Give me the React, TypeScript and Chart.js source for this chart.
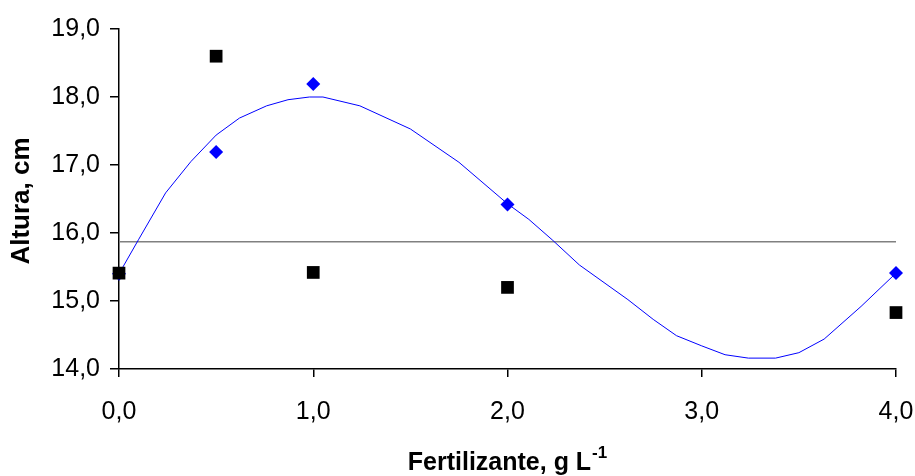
import React, { useEffect, useRef } from "react";
import { Chart, registerables } from "chart.js";

Chart.register(...registerables);

const blueX = [0, 0.5, 1, 2, 4];
const blueY = [15.4, 17.19, 18.19, 16.42, 15.41];
const blackX = [0, 0.5, 1, 2, 4];
const blackY = [15.41, 18.6, 15.42, 15.2, 14.83];
const curveX = [0, 0.1, 0.24, 0.37, 0.5, 0.62, 0.76, 0.87, 0.98, 1.05, 1.24, 1.5, 1.75, 2.0, 2.11, 2.23, 2.37, 2.62, 2.75, 2.87, 3.0, 3.12, 3.24, 3.38, 3.5, 3.63, 3.82, 4.0];
const curveY = [15.4, 15.9, 16.59, 17.05, 17.44, 17.69, 17.87, 17.96, 18.0, 18.0, 17.87, 17.53, 17.04, 16.43, 16.2, 15.9, 15.53, 15.02, 14.73, 14.49, 14.34, 14.21, 14.16, 14.16, 14.24, 14.44, 14.92, 15.41];
const meanX = [0, 4];
const meanY = [15.87, 15.87];
const xTitle = "Fertilizante, g L";
const xTitleSup = "-1";
const yTitle = "Altura, cm";

const FONT = '"Liberation Sans", Arial, sans-serif';

const zip = (xs: number[], ys: number[]) => xs.map((x, i) => ({ x, y: ys[i] }));

const titlesPlugin = {
  id: "titles",
  afterDraw(chart: any) {
    const ctx = chart.ctx;
    const a = chart.chartArea;
    ctx.save();
    ctx.fillStyle = "#000";
    ctx.font = `bold 26px ${FONT}`;
    ctx.textAlign = "center";
    ctx.textBaseline = "middle";
    ctx.save();
    ctx.translate(22, (a.top + a.bottom) / 2 + 2);
    ctx.rotate(-Math.PI / 2);
    ctx.fillText(yTitle, 0, 0);
    ctx.restore();
    ctx.textBaseline = "alphabetic";
    ctx.textAlign = "left";
    ctx.font = `bold 25px ${FONT}`;
    const w1 = ctx.measureText(xTitle).width;
    ctx.font = `bold 17px ${FONT}`;
    const w2 = ctx.measureText(xTitleSup).width;
    const cx = (a.left + a.right) / 2;
    const x0 = cx - (w1 + w2 + 1) / 2;
    ctx.font = `bold 25px ${FONT}`;
    ctx.fillText(xTitle, x0, 470);
    ctx.font = `bold 17px ${FONT}`;
    ctx.fillText(xTitleSup, x0 + w1 + 1, 458);
    ctx.restore();
  },
};

export default function App() {
  const ref = useRef<HTMLCanvasElement>(null);
  useEffect(() => {
    document.body.style.margin = "0";
    const fmt = (v: any) => Number(v).toFixed(1).replace(".", ",");
    const chart = new Chart(ref.current!, {
      type: "scatter",
      data: {
        datasets: [
          {
            data: zip(blueX, blueY),
            pointStyle: "rectRot",
            pointRadius: 7,
            backgroundColor: "#0000FF",
            borderColor: "#0000FF",
            borderWidth: 0,
            clip: false,
            order: 1,
          },
          {
            data: zip(blackX, blackY),
            pointStyle: "rect",
            pointRadius: 9,
            backgroundColor: "#000000",
            borderColor: "#000000",
            borderWidth: 0,
            clip: false,
            order: 0,
          },
          {
            data: zip(curveX, curveY),
            showLine: true,
            pointRadius: 0,
            borderColor: "#0000FF",
            borderWidth: 1,
            tension: 0,
            clip: false,
            order: 3,
          },
          {
            data: zip(meanX, meanY),
            showLine: true,
            pointRadius: 0,
            borderColor: "#808080",
            borderWidth: 1.5,
            order: 4,
          },
        ],
      },
      options: {
        animation: false,
        responsive: false,
        maintainAspectRatio: false,
        layout: { padding: { top: 29, right: 19, left: 0, bottom: 0 } },
        plugins: { legend: { display: false }, tooltip: { enabled: false } },
        scales: {
          x: {
            type: "linear",
            min: 0,
            max: 4,
            afterFit: (s: any) => { s.height = 107; s.paddingRight = 0; s.paddingLeft = 0; },
            border: { display: true, color: "#000", width: 1.5 },
            grid: { display: true, drawOnChartArea: false, drawTicks: true, tickLength: 8, color: "#000", lineWidth: 1.5 },
            ticks: { stepSize: 1, color: "#000", font: { family: FONT, size: 25 }, padding: 20, callback: fmt, maxRotation: 0 },
          },
          y: {
            type: "linear",
            min: 14,
            max: 19,
            afterFit: (s: any) => { s.width = 119; s.paddingTop = 0; s.paddingBottom = 0; },
            border: { display: true, color: "#000", width: 1.5 },
            grid: { display: true, drawOnChartArea: false, drawTicks: true, tickLength: 9, color: "#000", lineWidth: 1.5 },
            ticks: { stepSize: 1, color: "#000", font: { family: FONT, size: 25 }, padding: 10, callback: fmt },
          },
        },
      },
      plugins: [titlesPlugin],
    });
    return () => chart.destroy();
  }, []);
  return (
    <div style={{ position: "absolute", left: 0, top: 0, width: 915, height: 476, background: "#fff" }}>
      <canvas ref={ref} width={915} height={476} style={{ width: 915, height: 476 }} />
    </div>
  );
}
